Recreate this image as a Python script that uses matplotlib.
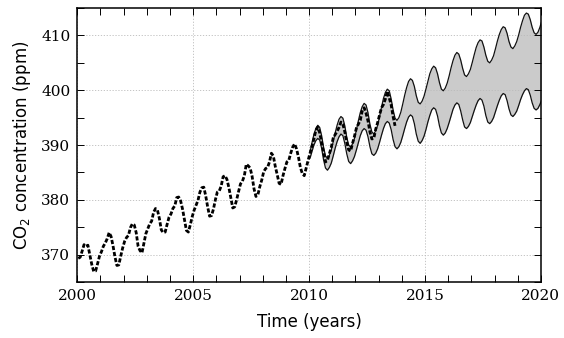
import numpy as np
import matplotlib
matplotlib.use("Agg")
import matplotlib.pyplot as plt
from matplotlib.ticker import MultipleLocator

# monthly CO2 observations, Jan 2000 .. Sep 2013 (ppm)
obs_start = 2000
obs_ppm = [
    369.3, 369.5, 370.6, 371.8, 371.5, 371.7, 369.9, 368.2, 366.9, 367.0, 368.3, 369.7,
    370.5, 371.5, 372.1, 372.9, 374.0, 373.3, 371.6, 369.6, 368.0, 368.1, 369.7, 371.2,
    372.4, 373.1, 373.5, 374.9, 375.6, 375.4, 374.0, 371.5, 370.7, 370.3, 372.1, 373.8,
    374.7, 375.6, 376.1, 377.7, 378.4, 378.1, 376.6, 374.5, 374.0, 374.1, 375.5, 376.8,
    377.4, 378.4, 378.9, 380.4, 380.5, 379.8, 378.3, 376.3, 374.4, 374.1, 375.4, 376.9,
    378.1, 379.0, 379.9, 381.4, 382.2, 382.3, 380.7, 378.7, 377.0, 377.1, 378.3, 380.0,
    381.4, 381.6, 382.5, 384.2, 384.4, 383.7, 382.2, 380.4, 378.5, 378.7, 380.0, 381.5,
    382.9, 383.4, 384.4, 386.5, 386.2, 385.8, 384.3, 382.0, 380.6, 380.9, 382.4, 383.6,
    385.1, 385.7, 385.9, 386.9, 388.5, 388.0, 386.1, 384.6, 383.0, 382.8, 384.4, 385.7,
    386.9, 387.2, 388.5, 389.6, 390.2, 389.3, 387.8, 385.9, 384.8, 384.4, 385.8, 387.2,
    388.5, 389.8, 391.1, 392.7, 393.3, 392.2, 390.4, 388.5, 386.9, 387.2, 388.4, 389.6,
    391.3, 391.9, 392.5, 393.2, 394.2, 393.8, 392.4, 390.5, 389.1, 388.9, 390.3, 391.6,
    393.1, 393.8, 394.5, 396.2, 396.8, 395.8, 394.4, 392.4, 391.1, 391.2, 392.9, 394.1,
    395.5, 396.8, 397.4, 398.4, 399.8, 398.6, 397.3, 395.2, 393.5,
]

# prediction band, monthly from Jan 2010 to Jan 2020 (ppm)
band_start = 2010
band_upper = [
    388.7, 390.4, 391.9, 393.0, 393.6, 393.2, 391.7, 389.6, 388.0, 387.6, 388.1, 389.1,
    390.6, 392.2, 393.6, 394.7, 395.2, 394.9, 393.5, 391.4, 390.0, 389.6, 390.2, 391.2,
    392.7, 394.4, 395.9, 397.0, 397.6, 397.3, 395.9, 393.8, 392.4, 392.0, 392.6, 393.6,
    395.2, 396.9, 398.5, 399.6, 400.2, 399.9, 398.4, 396.4, 394.9, 394.5, 395.0, 396.0,
    397.5, 399.1, 400.5, 401.6, 402.1, 401.8, 400.7, 399.0, 397.8, 397.5, 398.0, 398.9,
    400.2, 401.6, 403.0, 403.9, 404.4, 404.1, 403.0, 401.4, 400.2, 399.9, 400.4, 401.3,
    402.6, 404.1, 405.4, 406.4, 406.9, 406.6, 405.5, 404.0, 402.8, 402.5, 403.0, 403.8,
    405.1, 406.5, 407.8, 408.7, 409.2, 409.0, 407.9, 406.4, 405.3, 405.0, 405.5, 406.3,
    407.6, 409.0, 410.2, 411.1, 411.6, 411.4, 410.4, 408.9, 407.9, 407.6, 408.1, 408.9,
    410.1, 411.5, 412.7, 413.7, 414.1, 413.9, 412.9, 411.5, 410.5, 410.2, 410.6, 411.5,
    412.7,
]
band_lower = [
    387.6, 388.8, 390.0, 390.8, 391.2, 390.9, 389.4, 387.3, 385.8, 385.4, 385.9, 386.7,
    388.0, 389.4, 390.6, 391.5, 392.0, 391.7, 390.3, 388.4, 387.0, 386.6, 387.1, 387.9,
    389.1, 390.4, 391.7, 392.6, 393.0, 392.7, 391.5, 389.7, 388.4, 388.1, 388.5, 389.3,
    390.5, 391.8, 393.0, 393.9, 394.3, 394.0, 392.8, 391.0, 389.7, 389.3, 389.7, 390.5,
    391.7, 393.0, 394.2, 395.1, 395.5, 395.2, 393.9, 392.0, 390.7, 390.3, 390.8, 391.6,
    392.8, 394.2, 395.4, 396.4, 396.8, 396.5, 395.3, 393.5, 392.2, 391.8, 392.2, 393.0,
    394.1, 395.3, 396.5, 397.3, 397.7, 397.4, 396.2, 394.6, 393.3, 393.0, 393.4, 394.1,
    395.2, 396.3, 397.3, 398.1, 398.5, 398.2, 397.1, 395.4, 394.2, 393.9, 394.3, 395.0,
    396.1, 397.2, 398.2, 399.0, 399.4, 399.2, 398.1, 396.6, 395.5, 395.2, 395.6, 396.2,
    397.2, 398.3, 399.2, 399.9, 400.3, 400.1, 399.1, 397.7, 396.7, 396.4, 396.7, 397.4,
    398.3,
]

obs_t = obs_start + (np.arange(len(obs_ppm)) + 0.5) / 12
band_t = band_start + (np.arange(len(band_upper)) + 0.5) / 12

fig = plt.figure(figsize=(5.64, 3.38), dpi=100)
ax = fig.add_axes([0.137, 0.166, 0.822, 0.810])

ax.fill_between(band_t, band_lower, band_upper, color="#cbcbcb", lw=0, zorder=1)
ax.plot(band_t, band_upper, color="#111111", lw=0.9, zorder=2)
ax.plot(band_t, band_lower, color="#111111", lw=0.9, zorder=2)
ax.plot(obs_t, obs_ppm, color="black", lw=2.0, ls=(0, (1.5, 0.7)), zorder=3)

ax.set_xlim(2000, 2020)
ax.set_ylim(365, 415)
ax.xaxis.set_major_locator(MultipleLocator(5))
ax.xaxis.set_minor_locator(MultipleLocator(1))
ax.yaxis.set_major_locator(MultipleLocator(10))
ax.yaxis.set_minor_locator(MultipleLocator(5))
ax.tick_params(which="both", direction="in", top=True, right=True,
               length=5, width=0.7, labelsize=11, pad=5)
for lab in ax.get_xticklabels() + ax.get_yticklabels():
    lab.set_family("DejaVu Serif")
ax.grid(True, which="major", color="#bbbbbb", lw=0.6, ls=(0, (1.5, 2)), zorder=0)
for s in ax.spines.values():
    s.set_linewidth(1.1)

ax.set_xlabel("Time (years)", fontsize=12, labelpad=7)
ax.set_ylabel(r"CO$_2$ concentration (ppm)", fontsize=12, labelpad=6)

fig.savefig("out.png", dpi=100)
